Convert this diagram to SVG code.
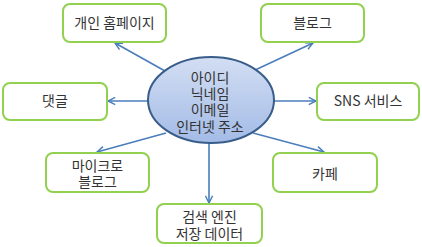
<svg xmlns="http://www.w3.org/2000/svg" width="422" height="247" viewBox="0 0 422 247">
<defs>
<linearGradient id="eg" x1="0" y1="0" x2="0" y2="1">
<stop offset="0" stop-color="#D3DEF3"/>
<stop offset="1" stop-color="#A3BBE6"/>
</linearGradient>
<marker id="ah" viewBox="0 0 10 10" refX="9" refY="5" markerWidth="9" markerHeight="9" markerUnits="userSpaceOnUse" orient="auto">
<path d="M1,1 L9,5 L1,9" fill="none" stroke="#4A7EBB" stroke-width="1.6"/>
</marker>
</defs>
<style>
.box{fill:#fff;stroke:#92D050;stroke-width:2}
.t{font-family:"Noto Sans CJK KR","Malgun Gothic",sans-serif;font-size:14px;fill:#333;text-anchor:middle}
.c{stroke:#4A7EBB;stroke-width:1.6;fill:none;marker-end:url(#ah)}
</style>
<rect width="422" height="247" fill="#fff"/>
<g id="connectors">
<line class="c" x1="165" y1="71" x2="115" y2="43"/>
<line class="c" x1="148" y1="101" x2="108" y2="101"/>
<line class="c" x1="253" y1="71" x2="313" y2="43"/>
<line class="c" x1="274" y1="101" x2="316" y2="101"/>
<line class="c" x1="166" y1="133" x2="97" y2="152"/>
<line class="c" x1="253" y1="133" x2="324" y2="152"/>
<line class="c" x1="209" y1="143" x2="209" y2="203"/>
</g>
<g id="center">
<ellipse cx="211" cy="100" rx="63" ry="43" fill="url(#eg)" stroke="#385D8A" stroke-width="2"/>
<text class="t" x="210" y="83">아이디<tspan x="210" dy="16">닉네임</tspan><tspan x="210" dy="16">이메일</tspan><tspan x="210" dy="17">인터넷 주소</tspan></text>
</g>
<g id="homepage">
<rect class="box" x="63" y="4" width="103" height="38" rx="7"/>
<text class="t" x="114.5" y="28">개인 홈페이지</text>
</g>
<g id="comment">
<rect class="box" x="3" y="83" width="104" height="37" rx="7"/>
<text class="t" x="55" y="106">댓글</text>
</g>
<g id="blog">
<rect class="box" x="261" y="4" width="103" height="38" rx="7"/>
<text class="t" x="312.5" y="28">블로그</text>
</g>
<g id="sns">
<rect class="box" x="317" y="83" width="102" height="37" rx="7"/>
<text class="t" x="368" y="106">SNS 서비스</text>
</g>
<g id="microblog">
<rect class="box" x="46" y="153" width="103" height="39" rx="7"/>
<text class="t" x="97.5" y="171">마이크로<tspan x="97.5" dy="16">블로그</tspan></text>
</g>
<g id="cafe">
<rect class="box" x="273" y="153" width="104" height="39" rx="7"/>
<text class="t" x="325" y="179">카페</text>
</g>
<g id="search">
<rect class="box" x="157" y="204" width="105" height="39" rx="7"/>
<text class="t" x="209.5" y="222">검색 엔진<tspan x="209.5" dy="17">저장 데이터</tspan></text>
</g>
</svg>
